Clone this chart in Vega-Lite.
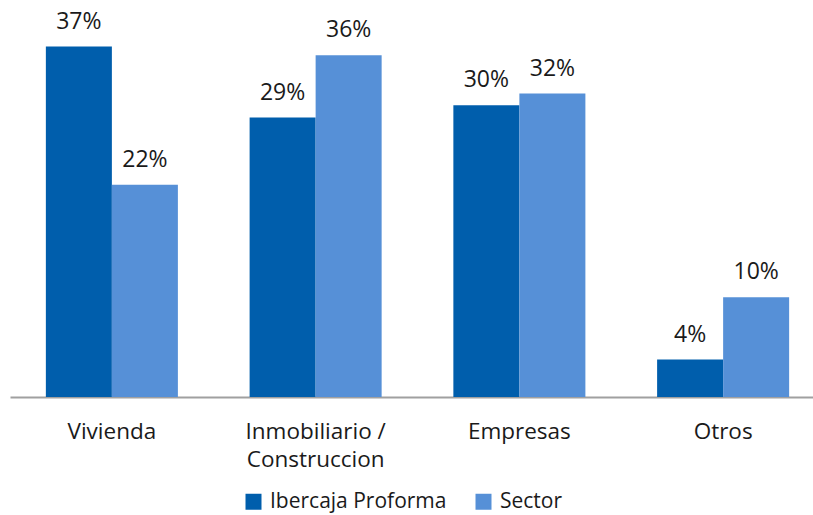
{
  "$schema": "https://vega.github.io/schema/vega-lite/v6.json",
  "autosize": {"type": "none"},
  "padding": {"left": 10, "top": 0, "right": 0, "bottom": 118},
  "width": 815,
  "height": 397,
  "background": "white",
  "config": {"view": {"stroke": null}, "font": "Open Sans"},
  "data": {
    "values": [
      {"cat": "Vivienda", "serie": "Ibercaja Proforma", "v": 36.5, "lab": "37%"},
      {"cat": "Vivienda", "serie": "Sector", "v": 22.1, "lab": "22%"},
      {"cat": "Inmobiliario / Construccion", "serie": "Ibercaja Proforma", "v": 29.1, "lab": "29%"},
      {"cat": "Inmobiliario / Construccion", "serie": "Sector", "v": 35.6, "lab": "36%"},
      {"cat": "Empresas", "serie": "Ibercaja Proforma", "v": 30.4, "lab": "30%"},
      {"cat": "Empresas", "serie": "Sector", "v": 31.6, "lab": "32%"},
      {"cat": "Otros", "serie": "Ibercaja Proforma", "v": 3.9, "lab": "4%"},
      {"cat": "Otros", "serie": "Sector", "v": 10.4, "lab": "10%"}
    ]
  },
  "encoding": {
    "x": {
      "field": "cat", "type": "nominal", "sort": null,
      "scale": {"paddingInner": 0.352, "paddingOuter": 0.176},
      "axis": {
        "title": null, "labelAngle": 0, "ticks": false, "domainColor": "#a0a0a0", "domainWidth": 2,
        "labelFontSize": 22.5, "labelColor": "#1a1a1a", "labelPadding": 23, "labelLineHeight": 28,
        "labelBaseline": "top", "labelLimit": 300,
        "labelExpr": "datum.label == 'Inmobiliario / Construccion' ? ['Inmobiliario /', 'Construccion'] : datum.label"
      }
    },
    "xOffset": {"field": "serie", "type": "nominal"},
    "y": {"field": "v", "type": "quantitative", "scale": {"domain": [0, 41.35]}, "axis": null}
  },
  "layer": [
    {
      "mark": {"type": "bar"},
      "encoding": {
        "color": {
          "field": "serie", "type": "nominal",
          "scale": {"domain": ["Ibercaja Proforma", "Sector"], "range": ["#005EAC", "#5690D7"]},
          "legend": {
            "title": null, "orient": "none", "legendX": 233, "legendY": 491, "direction": "horizontal",
            "symbolType": "square", "symbolSize": 256, "symbolStrokeWidth": 0, "labelOffset": 6,
            "labelFontSize": 21, "labelColor": "#1a1a1a", "columnPadding": 26, "labelLimit": 400
          }
        }
      }
    },
    {
      "mark": {"type": "text", "baseline": "alphabetic", "dy": -18, "fontSize": 23, "color": "#1a1a1a"},
      "encoding": {"text": {"field": "lab"}}
    }
  ]
}
